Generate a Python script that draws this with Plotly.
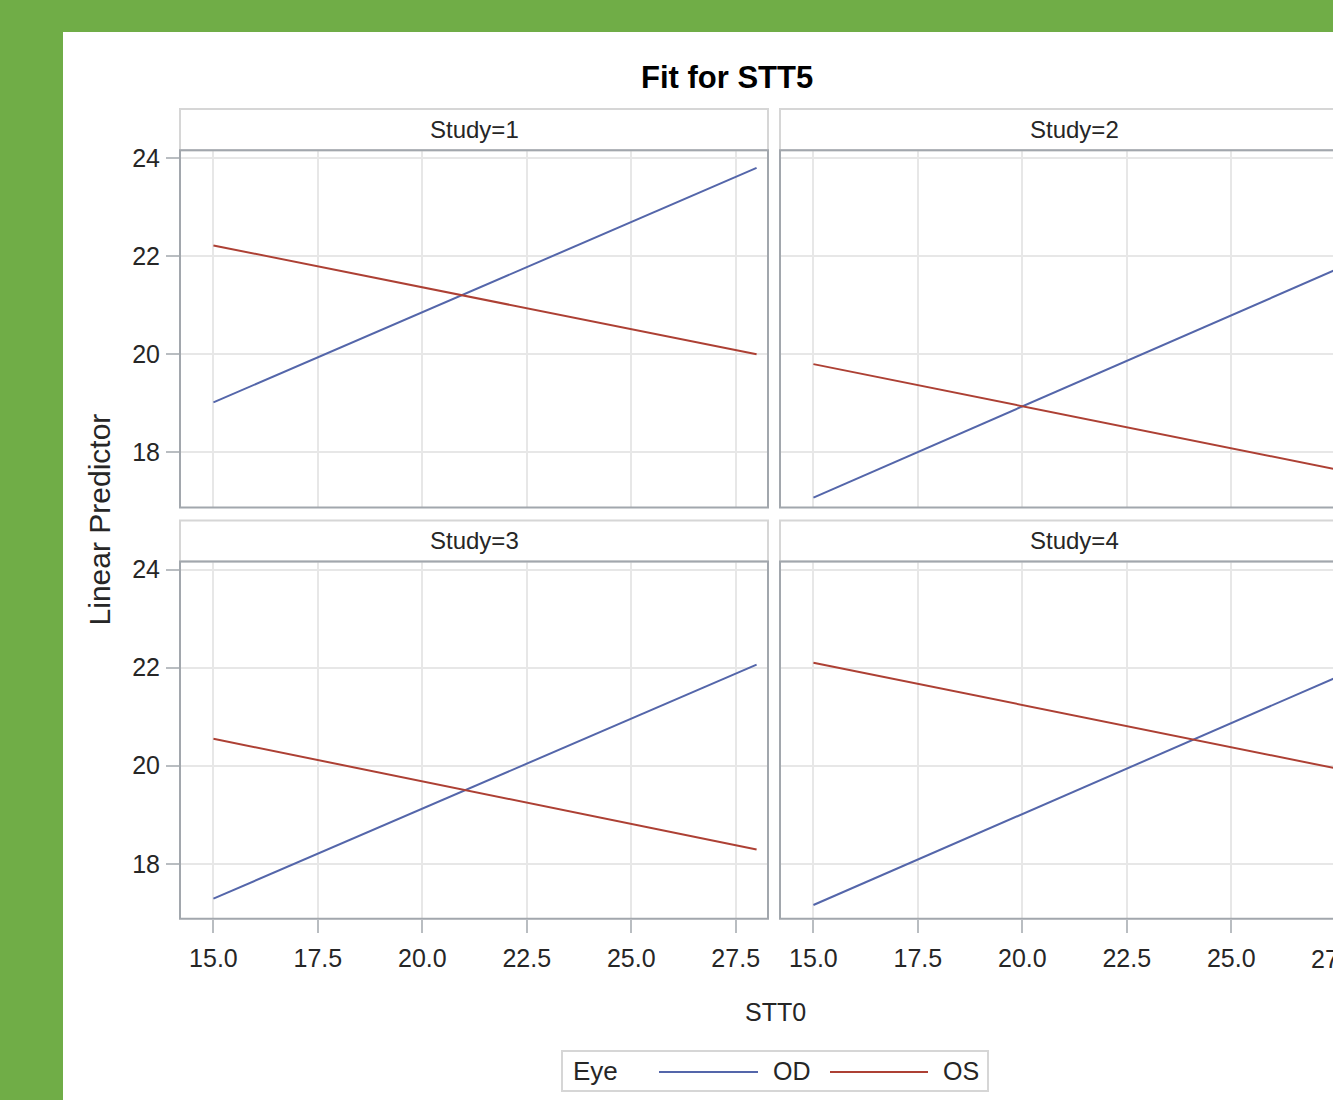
import plotly.graph_objects as go

# ---- data: fitted linear predictor of STT5 vs STT0, by study and eye ----
stt0_ends = [15.0, 28.0]
studies = [1, 2, 3, 4]
od_at_start = [19.02, 17.08, 17.29, 17.16]
od_at_end = [23.80, 21.91, 22.06, 21.98]
os_at_start = [22.22, 19.80, 20.55, 22.10]
os_at_end = [20.00, 17.57, 18.29, 19.86]
eye_levels = ["OD", "OS"]
eye_colors = ["#5466aa", "#ad4034"]
x_ticks = [15.0, 17.5, 20.0, 22.5, 25.0, 27.5]
y_ticks = [18, 20, 22, 24]

# ---- page geometry (pixels) ----
W, H = 1333, 1100
TOP_OFF, USABLE_H = 6, 1093


def px(x):
    return x / W


def py(y):
    # vertical pixel position on the page -> paper fraction
    return 1 - (y - TOP_OFF) / USABLE_H


GREEN = "#70ad47"
GRID = "#e7e7e7"
FRAME = "#a2a7ad"
HEAD = "#d6d6d6"
TICKC = "#b9bdc1"
TXT = "#262626"
FONT = "Liberation Sans, Arial, sans-serif"

# panel columns / rows in pixels: (plot left, plot right), (header top, plot top, plot bottom)
cols = [(180, 768), (780, 1368)]
rows = [(109, 150, 507), (520, 561, 918)]
x_range_left = [14.2, 28.273]
px_per_unit = (cols[0][1] - cols[0][0]) / (x_range_left[1] - x_range_left[0])
x_range_right = [14.2, 14.2 + (W - cols[1][0]) / px_per_unit]
y_range = [16.878, 24.163]

fig = go.Figure()
layout = {}
shapes = []
annotations = []

for i, st in enumerate(studies):
    r, c = divmod(i, 2)
    sfx = "" if i == 0 else str(i + 1)
    xa, ya = "x" + sfx, "y" + sfx
    fig.add_trace(go.Scatter(x=stt0_ends, y=[od_at_start[i], od_at_end[i]], mode="lines",
                             line=dict(color=eye_colors[0], width=2), name=eye_levels[0],
                             showlegend=False, xaxis=xa, yaxis=ya, hoverinfo="skip"))
    fig.add_trace(go.Scatter(x=stt0_ends, y=[os_at_start[i], os_at_end[i]], mode="lines",
                             line=dict(color=eye_colors[1], width=2), name=eye_levels[1],
                             showlegend=False, xaxis=xa, yaxis=ya, hoverinfo="skip"))
    x0, x1 = cols[c]
    ht, pt, pb = rows[r]
    bottom = r == 1
    left = c == 0
    layout["xaxis" + sfx] = dict(
        domain=[px(x0), min(1.0, px(x1))], anchor=ya,
        range=x_range_left if c == 0 else x_range_right,
        tickvals=x_ticks, tickformat=".1f",
        showgrid=True, gridcolor=GRID, gridwidth=2, zeroline=False, showline=False,
        ticks="outside" if bottom else "", ticklen=13, tickwidth=2, tickcolor=TICKC,
        showticklabels=bottom, tickfont=dict(family=FONT, size=25, color=TXT),
        ticklabelstandoff=4,
    )
    layout["yaxis" + sfx] = dict(
        domain=[py(pb), py(pt)], anchor=xa, range=y_range,
        tickvals=y_ticks,
        showgrid=True, gridcolor=GRID, gridwidth=2, zeroline=False, showline=False,
        ticks="outside" if left else "", ticklen=13, tickwidth=2, tickcolor=TICKC,
        showticklabels=left, tickfont=dict(family=FONT, size=25, color=TXT),
        ticklabelstandoff=1,
    )
    # strip header box and plot frame
    shapes.append(dict(type="rect", xref="paper", yref="paper", x0=px(x0), x1=px(x1),
                       y0=py(pt), y1=py(ht), line=dict(color=HEAD, width=2),
                       fillcolor="rgba(0,0,0,0)", layer="above"))
    shapes.append(dict(type="rect", xref="paper", yref="paper", x0=px(x0), x1=px(x1),
                       y0=py(pb), y1=py(pt), line=dict(color=FRAME, width=2),
                       fillcolor="rgba(0,0,0,0)", layer="above"))
    annotations.append(dict(text=f"Study={st}", xref="paper", yref="paper",
                            x=px((x0 + x1) / 2), y=py((ht + pt) / 2), showarrow=False,
                            xanchor="center", yanchor="middle",
                            font=dict(family=FONT, size=24, color=TXT)))

# white page behind the panels
shapes.insert(0, dict(type="rect", xref="paper", yref="paper", x0=px(63), x1=1.2,
                      y0=-0.2, y1=py(32), line=dict(width=0), fillcolor="white", layer="below"))

# title and axis titles
annotations.append(dict(text="<b>Fit for STT5</b>", xref="paper", yref="paper", x=px(727),
                        y=py(77), showarrow=False, xanchor="center", yanchor="middle",
                        font=dict(family=FONT, size=31, color="#000000")))
annotations.append(dict(text="Linear Predictor", xref="paper", yref="paper", x=px(99),
                        y=py(519), showarrow=False, textangle=-90, xanchor="center",
                        yanchor="middle", font=dict(family=FONT, size=30, color=TXT)))
annotations.append(dict(text="STT0", xref="paper", yref="paper", x=px(775), y=py(1011),
                        showarrow=False, xanchor="center", yanchor="middle",
                        font=dict(family=FONT, size=25, color=TXT)))
# partly visible last tick label of the right column
annotations.append(dict(text="27.5", xref="paper", yref="paper",
                        x=px(cols[1][0] + (27.5 - x_range_right[0]) * px_per_unit),
                        y=py(958), showarrow=False, xanchor="center", yanchor="middle",
                        font=dict(family=FONT, size=25, color=TXT)))

# legend box
shapes.append(dict(type="rect", xref="paper", yref="paper", x0=px(562), x1=px(988),
                   y0=py(1090), y1=py(1050), line=dict(color=HEAD, width=2),
                   fillcolor="white", layer="above"))
annotations.append(dict(text="Eye", xref="paper", yref="paper", x=px(571), y=py(1070),
                        showarrow=False, xanchor="left", yanchor="middle",
                        font=dict(family=FONT, size=26, color=TXT)))
legend_items = [(659, 758, 771), (830, 928, 941)]
for (lx0, lx1, tx), name, col in zip(legend_items, eye_levels, eye_colors):
    shapes.append(dict(type="line", xref="paper", yref="paper", x0=px(lx0), x1=px(lx1),
                       y0=py(1071), y1=py(1071), line=dict(color=col, width=2), layer="above"))
    annotations.append(dict(text=name, xref="paper", yref="paper", x=px(tx), y=py(1070),
                            showarrow=False, xanchor="left", yanchor="middle",
                            font=dict(family=FONT, size=25, color=TXT)))

fig.update_layout(
    width=W, height=H, margin=dict(l=0, r=0, t=0, b=0, pad=0),
    paper_bgcolor=GREEN, plot_bgcolor="white", showlegend=False,
    shapes=shapes, annotations=annotations, **layout,
)

fig.write_html("out.html")
